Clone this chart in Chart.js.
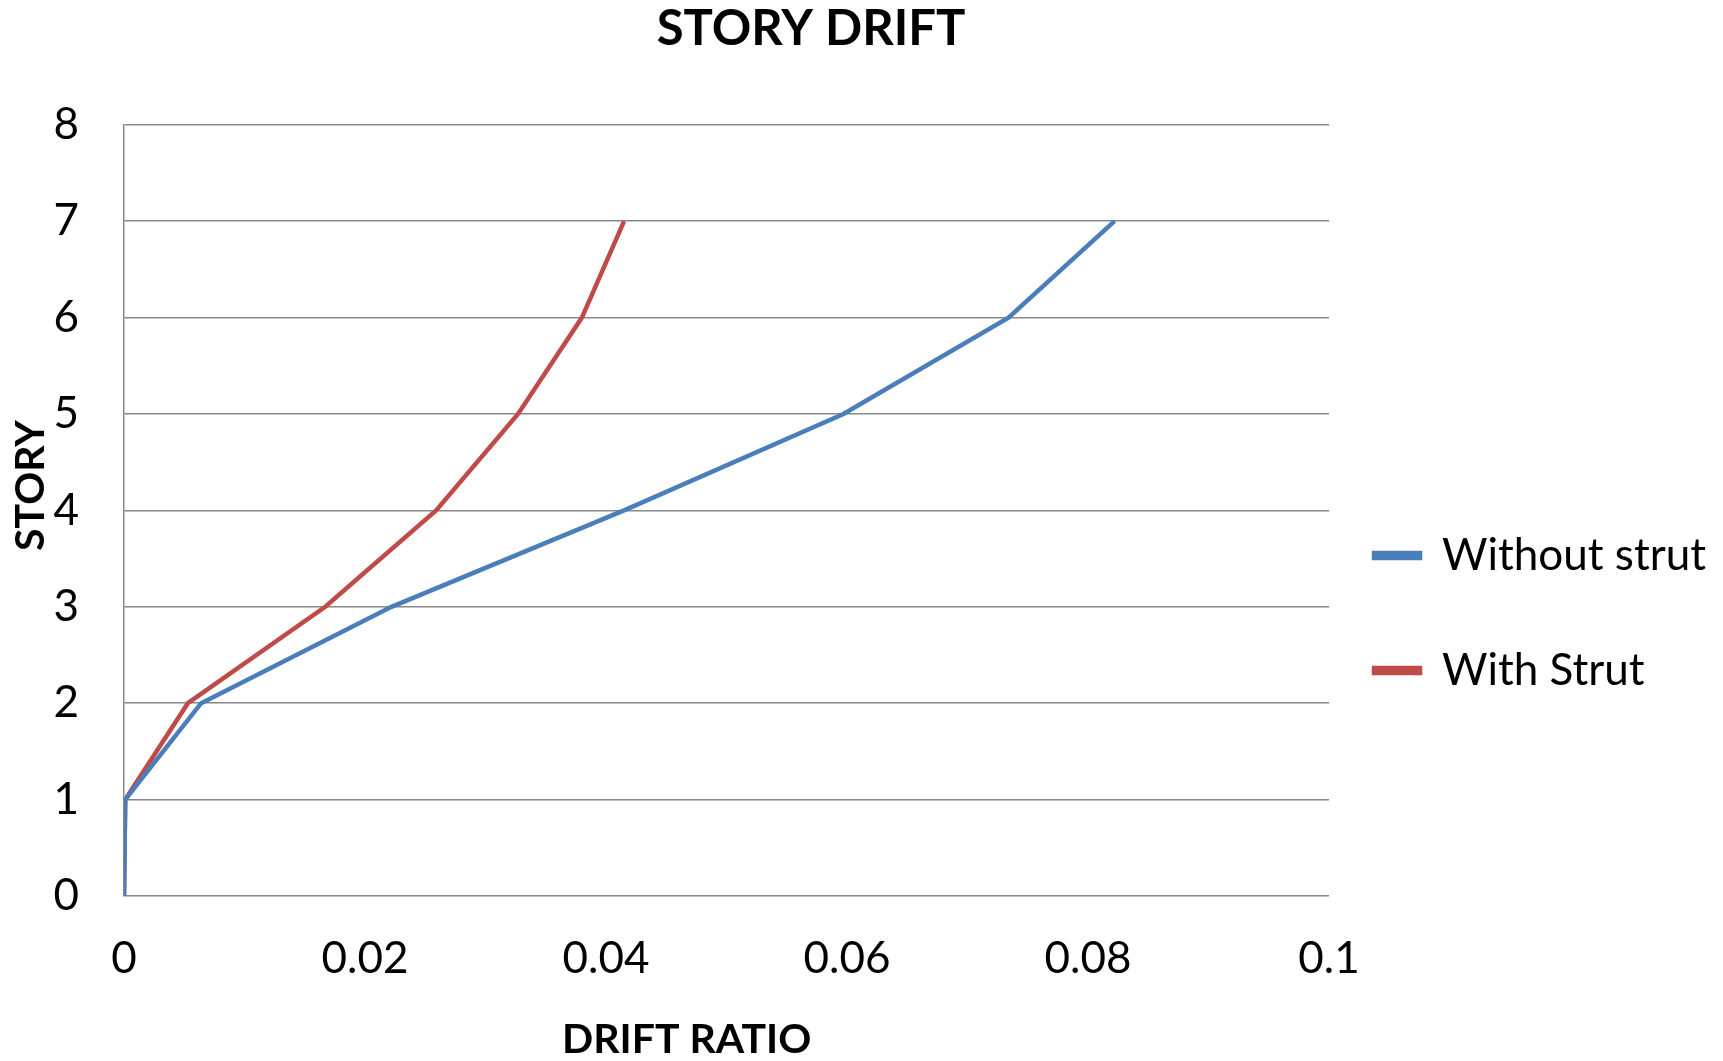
<!DOCTYPE html>
<html>
<head>
<meta charset="utf-8">
<script src="https://cdn.jsdelivr.net/npm/chart.js@4.4.1/dist/chart.umd.min.js"></script>
<style>
  html, body { margin: 0; padding: 0; background: #fff; }
  #wrap { width: 1723px; height: 1061px; }
</style>
</head>
<body>
<div id="wrap"><canvas id="drift"></canvas></div>
<script>
  // story levels and drift ratio for each case
  const stories = [0, 1, 2, 3, 4, 5, 6, 7];
  const withoutStrut = [0, 0.0001, 0.0064, 0.0222, 0.0415, 0.0597, 0.0734, 0.0822];
  const withStrut = [0, 0.0001, 0.0053, 0.0167, 0.0259, 0.0327, 0.0380, 0.0415];
  const seriesNames = ["Without strut", "With Strut"];
  const seriesColors = ["#4A7EBB", "#BE4B48"];

  const FONT = "Lato, 'Open Sans', sans-serif";
  const gridColor = "#888888";

  function toPoints(xs) {
    return xs.map((x, i) => ({ x: x, y: stories[i] }));
  }

  // Excel put the title left of centre and the legend close to the plot
  const nudge = {
    id: "nudge",
    afterLayout(chart) {
      const t = chart.titleBlock;
      t.left = 0;
      t.right = 1622;
      const lg = chart.legend;
      lg.left -= 26;
      lg.right -= 26;
    }
  };

  new Chart(document.getElementById("drift"), {
    type: "scatter",
    plugins: [nudge],
    data: {
      datasets: [withoutStrut, withStrut].map((vals, i) => ({
        label: seriesNames[i],
        data: toPoints(vals),
        showLine: true,
        borderColor: seriesColors[i],
        backgroundColor: seriesColors[i],
        borderWidth: 4.5,
        pointRadius: 0,
        tension: 0
      }))
    },
    options: {
      responsive: true,
      maintainAspectRatio: false,
      animation: false,
      layout: { padding: { left: 0, right: -19, top: 0, bottom: -3 } },
      scales: {
        x: {
          type: "linear",
          min: 0,
          max: 0.1,
          ticks: {
            stepSize: 0.02,
            color: "#000",
            font: { family: FONT, size: 44 },
            padding: 36,
            callback: (v) => String(+v.toFixed(2))
          },
          grid: { display: false, drawTicks: false },
          border: { display: false },
          title: {
            display: true,
            text: "DRIFT RATIO        ",
            color: "#000",
            font: { family: FONT, size: 41, weight: "bold" },
            padding: { top: 18, bottom: 0 }
          },
          afterFit: (scale) => { scale.height = 168; }
        },
        y: {
          type: "linear",
          min: 0,
          max: 8,
          ticks: {
            stepSize: 1,
            color: "#000",
            font: { family: FONT, size: 44 },
            padding: 45
          },
          grid: { color: gridColor, lineWidth: 1.5, drawTicks: false },
          border: { display: true, color: gridColor, width: 1.5 },
          title: {
            display: true,
            text: "     STORY",
            color: "#000",
            font: { family: FONT, size: 41, weight: "bold" },
            padding: { top: 6, bottom: 0 }
          },
          afterFit: (scale) => { scale.width = 124; }
        }
      },
      plugins: {
        title: {
          display: true,
          text: "STORY DRIFT",
          color: "#000",
          font: { family: FONT, size: 49, weight: "bold" },
          padding: { top: 0, bottom: 66 }
        },
        legend: {
          position: "right",
          title: {
            display: true,
            text: " ",
            font: { family: FONT, size: 10 },
            padding: { top: 0, bottom: 150 }
          },
          labels: {
            color: "#000",
            font: { family: FONT, size: 44 },
            boxWidth: 46,
            boxHeight: 5,
            padding: 71
          }
        },
        tooltip: { enabled: false }
      }
    }
  });
</script>
</body>
</html>
